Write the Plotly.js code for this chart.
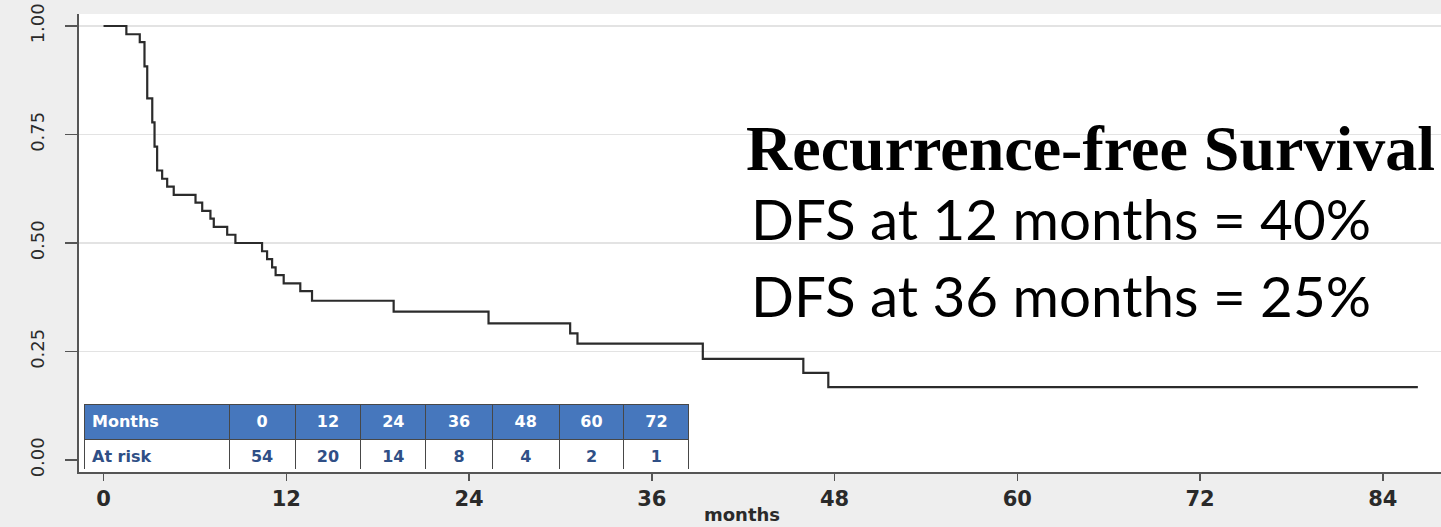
<!DOCTYPE html>
<html>
<head>
<meta charset="utf-8">
<script src="https://cdn.plot.ly/plotly-3.0.1.min.js"></script>
<style>
  html, body { margin: 0; padding: 0; background: #eeeeee; }
  #chart { width: 1441px; height: 527px; }
</style>
</head>
<body>
<div id="chart"></div>
<script>
// Kaplan-Meier recurrence-free survival: event times (months) and survival after each step
const months = [0, 1.5, 2.38, 2.69, 2.87, 3.2, 3.35, 3.52, 3.85, 4.18, 4.61, 6.04, 6.48, 7.02, 7.24,
                8.12, 8.66, 10.41, 10.74, 11.07, 11.3, 11.83, 12.92, 13.69, 19.05, 25.28, 30.64,
                31.12, 39.35, 45.95, 47.59, 86.3];
const survival = [1.0, 0.981, 0.963, 0.907, 0.833, 0.778, 0.722, 0.667, 0.648, 0.630, 0.611,
                  0.593, 0.574, 0.556, 0.537, 0.519, 0.500, 0.481, 0.463, 0.444, 0.426, 0.407,
                  0.389, 0.367, 0.342, 0.315, 0.292, 0.268, 0.233, 0.201, 0.168, 0.168];

// Number-at-risk table
const riskMonths = ['0', '12', '24', '36', '48', '60', '72'];
const atRisk = [54, 20, 14, 8, 4, 2, 1];

// Axis ticks
const xTicks = [0, 12, 24, 36, 48, 60, 72, 84];
const yTicks = [0, 0.25, 0.5, 0.75, 1];
const yGrid = [0.25, 0.5, 0.75, 1];

// Summary text
const titleText = 'Recurrence-free Survival';
const summaryLines = ['DFS at 12 months = 40%', 'DFS at 36 months = 25%'];

const W = 1441, H = 527;
const M = { l: 79, r: 0, t: 14, b: 55 };
const plotW = W - M.l - M.r, plotH = H - M.t - M.b;
const px = x => (x - M.l) / plotW;
const py = y => (H - M.b - y) / plotH;

const blue = '#4677bd';
const darkBlue = '#2f4f86';
const border = '#474747';

const kmTrace = {
  type: 'scatter',
  mode: 'lines',
  x: months,
  y: survival,
  line: { shape: 'hv', color: '#2b2b2b', width: 2.2 },
  hoverinfo: 'x+y',
  showlegend: false
};

// Empty trace that carries the labelled survival axis (y2) drawn over the gridded one
const axisCarrier = {
  type: 'scatter',
  mode: 'lines',
  x: [],
  y: [],
  yaxis: 'y2',
  hoverinfo: 'skip',
  showlegend: false
};

const colAlign = ['left'].concat(riskMonths.map(() => 'center'));

const riskTable = {
  type: 'table',
  domain: { x: [px(84), px(689)], y: [py(469), py(404)] },
  columnwidth: [145, 66, 65.6, 65.2, 66.2, 67, 64.5, 65.2],
  header: {
    values: ['<b>Months</b>'].concat(riskMonths.map(m => '<b>' + m + '</b>')),
    align: colAlign,
    fill: { color: blue },
    line: { color: border, width: 1 },
    font: { family: 'DejaVu Sans', size: 16, color: '#ffffff' },
    height: 28
  },
  cells: {
    values: [['<b>At risk</b>']].concat(atRisk.map(v => ['<b>' + v + '</b>'])),
    align: colAlign,
    fill: { color: '#ffffff' },
    line: { color: border, width: 1 },
    font: { family: 'DejaVu Sans', size: 16, color: darkBlue },
    height: 29
  }
};

const layout = {
  width: W,
  height: H,
  margin: { l: M.l, r: M.r, t: M.t, b: M.b, pad: 0 },
  paper_bgcolor: '#eeeeee',
  plot_bgcolor: '#ffffff',
  showlegend: false,
  xaxis: {
    range: [-1.61, 87.82],
    tickvals: xTicks,
    ticks: 'outside',
    ticklen: 7,
    tickwidth: 1.5,
    tickcolor: '#555555',
    showline: true,
    linecolor: '#555555',
    linewidth: 2,
    showgrid: false,
    zeroline: false,
    tickfont: { family: 'DejaVu Sans', size: 21, color: '#2a2a2a', weight: 'bold' },
    fixedrange: true
  },
  yaxis: {
    range: [-0.0276, 1.0276],
    tickvals: yGrid,
    showticklabels: false,
    ticks: '',
    showgrid: true,
    gridcolor: '#e3e3e3',
    gridwidth: 1.5,
    zeroline: false,
    showline: false,
    fixedrange: true
  },
  yaxis2: {
    overlaying: 'y',
    side: 'left',
    anchor: 'x',
    range: [-0.0276, 1.0276],
    tickvals: yTicks,
    tickformat: '.2f',
    tickangle: -90,
    ticks: 'outside',
    ticklen: 12,
    tickwidth: 1.5,
    tickcolor: '#555555',
    ticklabelstandoff: 14,
    showline: true,
    linecolor: '#555555',
    linewidth: 2,
    showgrid: false,
    zeroline: false,
    tickfont: { family: 'DejaVu Sans', size: 18, color: '#2a2a2a' },
    fixedrange: true
  },
  annotations: [
    {
      xref: 'paper', yref: 'paper', x: px(742), y: py(514),
      xanchor: 'center', yanchor: 'middle', showarrow: false,
      text: 'months',
      font: { family: 'DejaVu Sans', size: 18, color: '#2a2a2a', weight: 'bold' }
    },
    {
      xref: 'paper', yref: 'paper', x: px(744), y: py(148),
      xanchor: 'left', yanchor: 'middle', showarrow: false,
      text: '<b>' + titleText + '</b>',
      font: { family: 'Liberation Serif', size: 64, color: '#000000' }
    },
    {
      xref: 'paper', yref: 'paper', x: px(749), y: py(218),
      xanchor: 'left', yanchor: 'middle', showarrow: false,
      text: summaryLines[0],
      font: { family: 'Lato', size: 56.5, color: '#000000' }
    },
    {
      xref: 'paper', yref: 'paper', x: px(749), y: py(295),
      xanchor: 'left', yanchor: 'middle', showarrow: false,
      text: summaryLines[1],
      font: { family: 'Lato', size: 56.5, color: '#000000' }
    }
  ]
};

Plotly.newPlot('chart', [kmTrace, axisCarrier, riskTable], layout, { displayModeBar: false, staticPlot: true });
</script>
</body>
</html>
